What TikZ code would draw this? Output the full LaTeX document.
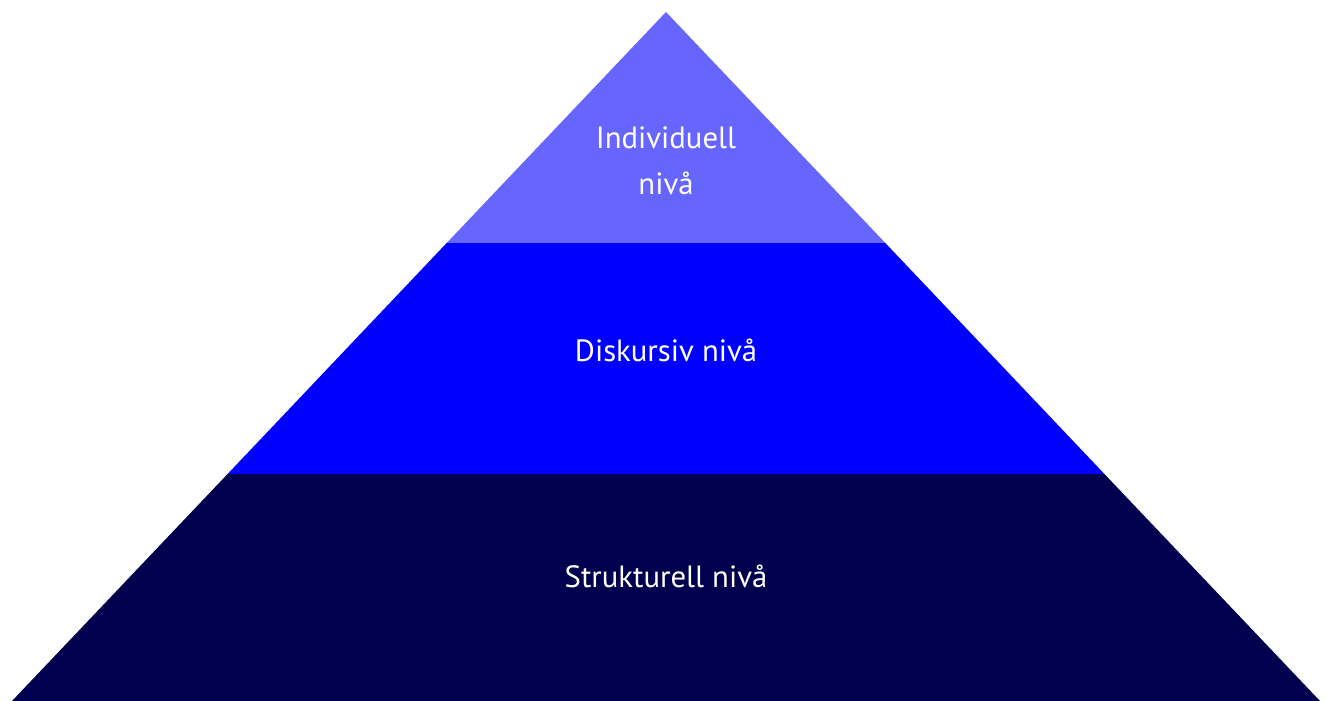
\documentclass[tikz,border=0pt]{standalone}
\usepackage{fontspec}
\setmainfont{PT Sans}
\definecolor{toplayer}{RGB}{102,102,255}
\definecolor{midlayer}{RGB}{0,0,255}
\definecolor{baselayer}{RGB}{0,0,78}
\tikzset{
  layertext/.style={text=white, font=\fontsize{30.7}{46}\selectfont, align=center, inner sep=0pt}
}
\begin{document}
\begin{tikzpicture}[x=1pt,y=1pt]
\useasboundingbox (0,0) rectangle (1326,701);
\coordinate (apex) at (666,689);
\coordinate (bl) at (12,0);
\coordinate (br) at (1320,0);
\coordinate (l1) at (446.7,458);
\coordinate (r1) at (885.3,458);
\coordinate (l2) at (227.6,227);
\coordinate (r2) at (1104.4,227);
\fill[baselayer] (bl) -- (br) -- (r2) -- (l2) -- cycle;
\fill[midlayer] (l2) -- (r2) -- (r1) -- (l1) -- cycle;
\fill[toplayer] (l1) -- (r1) -- (apex) -- cycle;
\node[layertext] (ind) at (666,540) {Individuell\\nivå};
\node[layertext] (disk) at (666,351) {Diskursiv nivå};
\node[layertext] (strukt) at (666,125) {Strukturell nivå};
\end{tikzpicture}
\end{document}
